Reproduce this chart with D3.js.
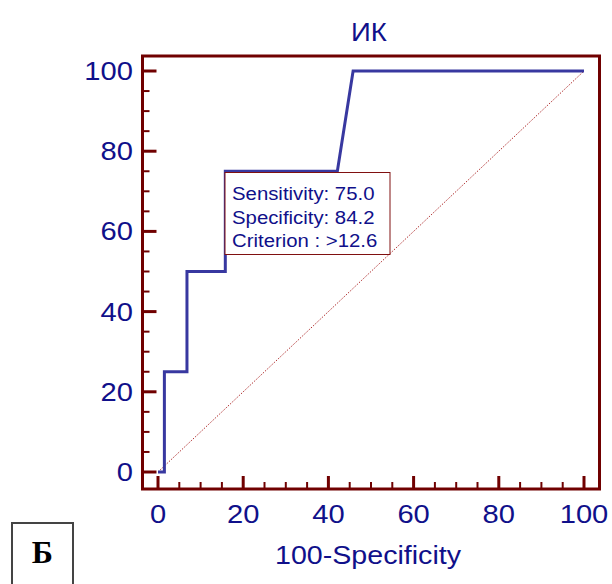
<!DOCTYPE html>
<html><head><meta charset="utf-8">
<script src="https://cdn.jsdelivr.net/npm/d3@7"></script>
<style>body{margin:0;background:#fff}svg{display:block}</style>
</head><body>
<svg id="c" width="612" height="584"></svg>
<script>
const rocX = [0, 1.5, 1.5, 6.8, 6.8, 15.8, 15.8, 42.1, 45.8, 100];
const rocY = [0, 0, 25, 25, 50, 50, 75, 75, 100, 100];
const majorTicks = [0, 20, 40, 60, 80, 100];
const minorTicks = [5, 10, 15, 25, 30, 35, 45, 50, 55, 65, 70, 75, 85, 90, 95];
const title = "ИК";
const xLabel = "100-Specificity";
const infoLines = ["Sensitivity: 75.0", "Specificity: 84.2", "Criterion : >12.6"];
const panelLabel = "Б";

const svg = d3.select("#c");
const x = d3.scaleLinear().domain([0, 100]).range([158, 584]);
const y = d3.scaleLinear().domain([0, 100]).range([472, 71]);
const frame = {l: 142.5, r: 599.5, t: 56, b: 489};
const frameCol = "#700000", textCol = "#10108a", curveCol = "#3838a0";
const font = "Liberation Sans, Arial, sans-serif";
const sx = 1.1;

function txt(g, px, py, s, size, anchor) {
  return g.append("text").attr("transform", `translate(${px},${py}) scale(${sx},1)`)
    .attr("text-anchor", anchor).attr("fill", textCol).attr("font-family", font)
    .attr("font-size", size).text(s);
}

// diagonal reference
svg.append("line").attr("x1", x(0)).attr("y1", y(0)).attr("x2", x(100)).attr("y2", y(100))
  .attr("stroke", "#b03030").attr("stroke-width", 1).attr("stroke-dasharray", "1.5,1.5");

// ROC curve
const pts = rocX.map((v, i) => [v, rocY[i]]);
svg.append("path").attr("d", d3.line().x(d => x(d[0])).y(d => y(d[1]))(pts))
  .attr("fill", "none").attr("stroke", curveCol).attr("stroke-width", 3).attr("stroke-linejoin", "miter");

// frame
svg.append("rect").attr("x", frame.l).attr("y", frame.t).attr("width", frame.r - frame.l).attr("height", frame.b - frame.t)
  .attr("fill", "none").attr("stroke", frameCol).attr("stroke-width", 3);

// y ticks (inward)
const gy = svg.append("g");
gy.selectAll(".ymaj").data(majorTicks).join("line").attr("x1", frame.l).attr("x2", frame.l + 14)
  .attr("y1", d => y(d)).attr("y2", d => y(d)).attr("stroke", frameCol).attr("stroke-width", 3);
gy.selectAll(".ymin").data(minorTicks).join("line").attr("x1", frame.l).attr("x2", frame.l + 7)
  .attr("y1", d => y(d)).attr("y2", d => y(d)).attr("stroke", frameCol).attr("stroke-width", 2);
majorTicks.forEach(d => txt(gy, 133, y(d) + 9, d, 26.5, "end"));

// x ticks (inward)
const gx = svg.append("g");
gx.selectAll(".xmaj").data(majorTicks).join("line").attr("y1", frame.b).attr("y2", frame.b - 13)
  .attr("x1", d => x(d)).attr("x2", d => x(d)).attr("stroke", frameCol).attr("stroke-width", 3);
gx.selectAll(".xmin").data(minorTicks).join("line").attr("y1", frame.b).attr("y2", frame.b - 7)
  .attr("x1", d => x(d)).attr("x2", d => x(d)).attr("stroke", frameCol).attr("stroke-width", 2);
majorTicks.forEach(d => txt(gx, x(d), 522.5, d, 26.5, "middle"));

// title and axis label
txt(svg, 369, 41, title, 25, "middle");
txt(svg, 368, 563.5, xLabel, 26, "middle");

// info box
svg.append("rect").attr("x", 225).attr("y", 172.5).attr("width", 165).attr("height", 82)
  .attr("fill", "#fff").attr("stroke", "#801010").attr("stroke-width", 1);
infoLines.forEach((d, i) => txt(svg, 232, 200 + i * 23.5, d, 18.5, "start"));

// panel label
svg.append("rect").attr("x", 12).attr("y", 523).attr("width", 61).attr("height", 70)
  .attr("fill", "#fff").attr("stroke", "#444").attr("stroke-width", 2);
svg.append("text").attr("x", 42.3).attr("y", 562.5).attr("text-anchor", "middle")
  .attr("fill", "#000").attr("font-family", "Liberation Serif, Times New Roman, serif").attr("font-weight", "bold")
  .attr("font-size", 32).text(panelLabel);
</script>
</body></html>
